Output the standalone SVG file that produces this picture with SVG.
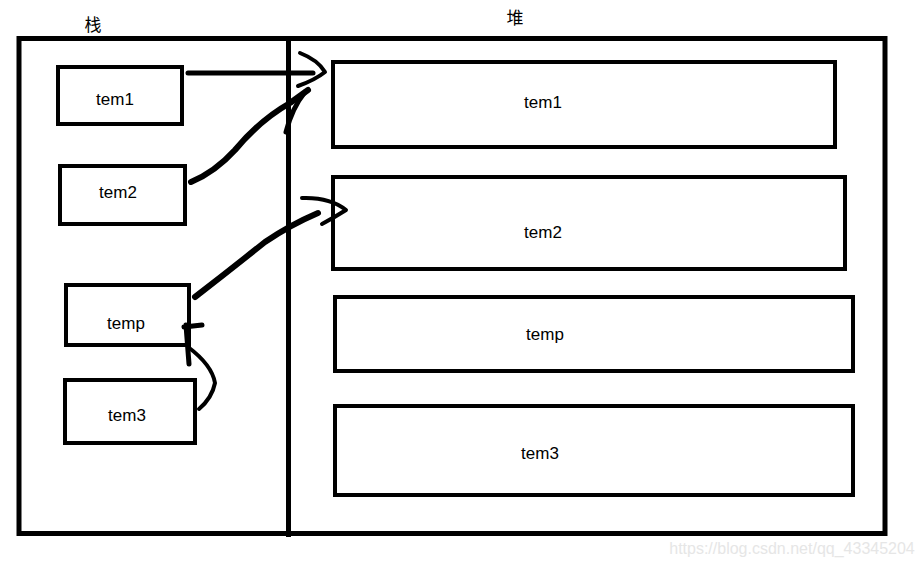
<svg xmlns="http://www.w3.org/2000/svg" width="923" height="566" viewBox="0 0 923 566">
<style>
.box{fill:none;stroke:#000;stroke-width:4}
.frame{fill:none;stroke:#000;stroke-width:5}
.lbl{font-family:"Liberation Sans",Arial,sans-serif;font-size:17px;fill:#000;text-anchor:middle}
.cjk{font-family:"Noto Sans CJK SC","Liberation Sans",sans-serif;font-size:17px;fill:#000;text-anchor:middle}
.pen{fill:none;stroke:#000;stroke-linecap:round;stroke-linejoin:round}
</style>
<rect width="923" height="566" fill="#fff"/>
<g id="frame">
<rect class="frame" x="19" y="38.5" width="866" height="495"/>
<line x1="288.5" y1="38" x2="288.5" y2="537" stroke="#000" stroke-width="5"/>
<text class="cjk" x="93" y="31">栈</text>
<text class="cjk" x="515" y="24">堆</text>
</g>
<g id="s-tem1"><rect class="box" x="58" y="67" width="124" height="57"/><text class="lbl" x="115" y="105">tem1</text></g>
<g id="s-tem2"><rect class="box" x="60" y="166" width="125" height="58"/><text class="lbl" x="118" y="198">tem2</text></g>
<g id="s-temp"><rect class="box" x="66" y="285" width="123" height="60"/><text class="lbl" x="126" y="329">temp</text></g>
<g id="s-tem3"><rect class="box" x="65" y="380" width="130" height="63"/><text class="lbl" x="127" y="421">tem3</text></g>
<g id="h-tem1"><rect class="box" x="333" y="62" width="502" height="85"/><text class="lbl" x="543" y="108">tem1</text></g>
<g id="h-tem2"><rect class="box" x="333" y="177" width="512" height="92"/><text class="lbl" x="543" y="238">tem2</text></g>
<g id="h-temp"><rect class="box" x="335" y="297" width="518" height="74"/><text class="lbl" x="545" y="340">temp</text></g>
<g id="h-tem3"><rect class="box" x="335" y="406" width="518" height="89"/><text class="lbl" x="540" y="459">tem3</text></g>
<g id="connectors">
<path class="pen" stroke-width="5" d="M188,73 L313,73"/>
<path class="pen" stroke-width="4" d="M300,53 Q318,60 325,72 Q315,80 298,86"/>
<path class="pen" stroke-width="6" d="M191,182 Q215,172 235,150 Q260,120 290,103 L308,90"/>
<path class="pen" stroke-width="5" d="M286,132 Q292,108 305,92"/>
<path class="pen" stroke-width="6" d="M195,297 Q230,270 265,242 Q290,225 318,213"/>
<path class="pen" stroke-width="4" d="M302,198 Q330,197 346,210 Q335,217 322,224"/>
<path class="pen" stroke-width="5" d="M184,327 L202,325 M186,325 L189,364"/>
<path class="pen" stroke-width="4" d="M188,347 Q212,365 215,383 Q212,398 199,409"/>
</g>
<text x="792" y="554" font-family="Liberation Sans,Arial,sans-serif" font-size="16" fill="#e6e6e6" text-anchor="middle">https://blog.csdn.net/qq_43345204</text>
</svg>
